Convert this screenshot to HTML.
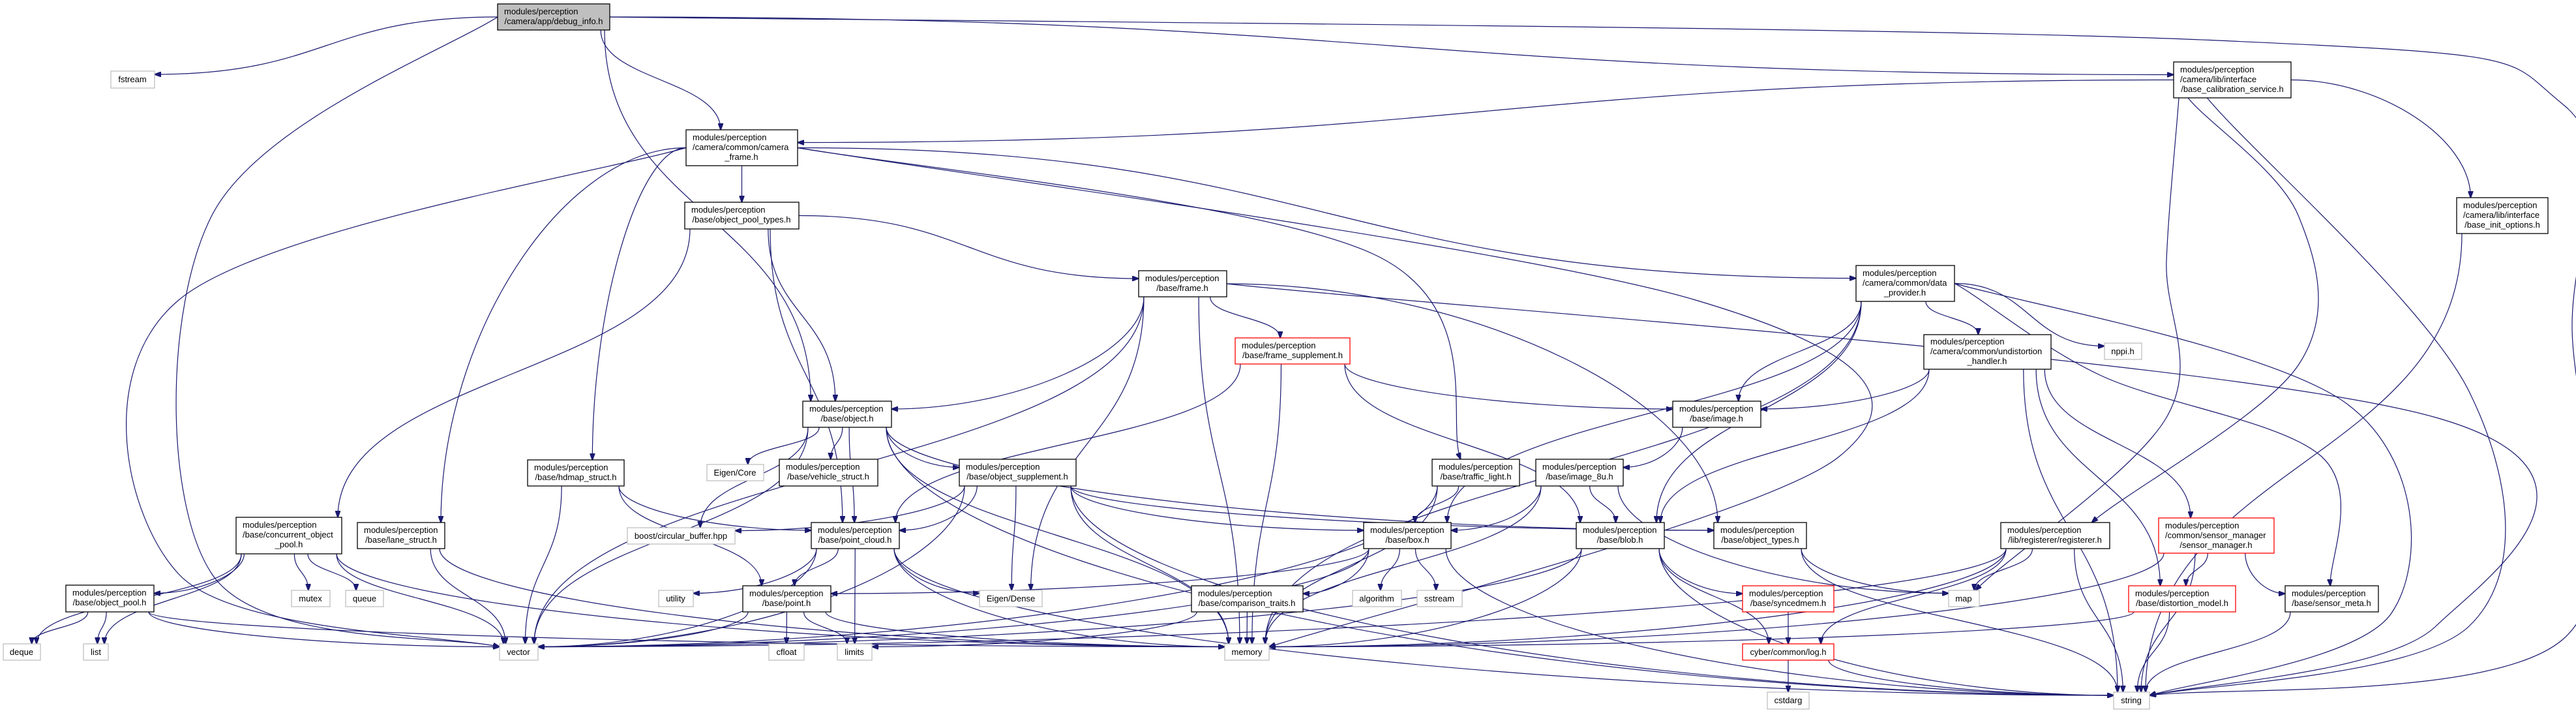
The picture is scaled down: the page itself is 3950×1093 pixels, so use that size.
<!DOCTYPE html>
<html><head><meta charset="utf-8"><style>
html,body{margin:0;padding:0;background:#fff;overflow:hidden;width:3950px;height:1093px;}
svg{display:block;}
text{font-family:"Liberation Sans",Helvetica,Arial,sans-serif;font-size:13px;fill:#000;}
</style></head><body>
<svg id="g" width="3950" height="1093" viewBox="0 0 3950 1093" xmlns="http://www.w3.org/2000/svg">
<defs><marker id="ah" markerWidth="11" markerHeight="8" refX="10" refY="4" orient="auto" markerUnits="userSpaceOnUse"><path d="M0,0 L11,4 L0,8 z" fill="#191970" stroke="#191970"/></marker></defs>
<g id="edges" fill="none" stroke="#191970" stroke-width="1.2"></g>
<g id="nodes" stroke-width="1.3">
<rect x="763" y="6" width="172" height="40" fill="#bfbfbf" stroke="#000"/><text x="773" y="22">modules/perception</text><text x="849" y="37" text-anchor="middle">/camera/app/debug_info.h</text>
<rect x="170" y="109" width="67" height="26" fill="#fff" stroke="#bfbfbf"/><text x="203" y="126" text-anchor="middle">fstream</text>
<rect x="3333" y="95" width="180" height="55" fill="#fff" stroke="#000"/><text x="3343" y="111">modules/perception</text><text x="3343" y="126">/camera/lib/interface</text><text x="3423" y="141" text-anchor="middle">/base_calibration_service.h</text>
<rect x="3767" y="303" width="140" height="55" fill="#fff" stroke="#000"/><text x="3777" y="319">modules/perception</text><text x="3777" y="334">/camera/lib/interface</text><text x="3837" y="349" text-anchor="middle">/base_init_options.h</text>
<rect x="1052" y="199" width="171" height="55" fill="#fff" stroke="#000"/><text x="1062" y="215">modules/perception</text><text x="1062" y="230">/camera/common/camera</text><text x="1137" y="245" text-anchor="middle">_frame.h</text>
<rect x="1050" y="310" width="175" height="41" fill="#fff" stroke="#000"/><text x="1060" y="326">modules/perception</text><text x="1137" y="341" text-anchor="middle">/base/object_pool_types.h</text>
<rect x="1746" y="415" width="135" height="40" fill="#fff" stroke="#000"/><text x="1756" y="431">modules/perception</text><text x="1813" y="446" text-anchor="middle">/base/frame.h</text>
<rect x="2846" y="407" width="151" height="55" fill="#fff" stroke="#000"/><text x="2856" y="423">modules/perception</text><text x="2856" y="438">/camera/common/data</text><text x="2921" y="453" text-anchor="middle">_provider.h</text>
<rect x="1894" y="518" width="176" height="40" fill="#fff" stroke="#f00"/><text x="1904" y="534">modules/perception</text><text x="1982" y="549" text-anchor="middle">/base/frame_supplement.h</text>
<rect x="2950" y="513" width="195" height="53" fill="#fff" stroke="#000"/><text x="2960" y="528">modules/perception</text><text x="2960" y="543">/camera/common/undistortion</text><text x="3047" y="558" text-anchor="middle">_handler.h</text>
<rect x="3227" y="526" width="57" height="25" fill="#fff" stroke="#bfbfbf"/><text x="3255" y="543" text-anchor="middle">nppi.h</text>
<rect x="1231" y="615" width="136" height="40" fill="#fff" stroke="#000"/><text x="1241" y="631">modules/perception</text><text x="1299" y="646" text-anchor="middle">/base/object.h</text>
<rect x="2565" y="615" width="135" height="40" fill="#fff" stroke="#000"/><text x="2575" y="631">modules/perception</text><text x="2632" y="646" text-anchor="middle">/base/image.h</text>
<rect x="809" y="705" width="148" height="40" fill="#fff" stroke="#000"/><text x="819" y="721">modules/perception</text><text x="883" y="736" text-anchor="middle">/base/hdmap_struct.h</text>
<rect x="1084" y="712" width="87" height="25" fill="#fff" stroke="#bfbfbf"/><text x="1127" y="729" text-anchor="middle">Eigen/Core</text>
<rect x="1195" y="704" width="151" height="41" fill="#fff" stroke="#000"/><text x="1205" y="720">modules/perception</text><text x="1270" y="735" text-anchor="middle">/base/vehicle_struct.h</text>
<rect x="1471" y="704" width="179" height="41" fill="#fff" stroke="#000"/><text x="1481" y="720">modules/perception</text><text x="1560" y="735" text-anchor="middle">/base/object_supplement.h</text>
<rect x="2196" y="704" width="134" height="41" fill="#fff" stroke="#000"/><text x="2206" y="720">modules/perception</text><text x="2263" y="735" text-anchor="middle">/base/traffic_light.h</text>
<rect x="2355" y="704" width="134" height="41" fill="#fff" stroke="#000"/><text x="2365" y="720">modules/perception</text><text x="2422" y="735" text-anchor="middle">/base/image_8u.h</text>
<rect x="362" y="793" width="162" height="56" fill="#fff" stroke="#000"/><text x="372" y="809">modules/perception</text><text x="372" y="824">/base/concurrent_object</text><text x="443" y="839" text-anchor="middle">_pool.h</text>
<rect x="548" y="801" width="134" height="40" fill="#fff" stroke="#000"/><text x="558" y="817">modules/perception</text><text x="615" y="832" text-anchor="middle">/base/lane_struct.h</text>
<rect x="1244" y="801" width="135" height="40" fill="#fff" stroke="#000"/><text x="1254" y="817">modules/perception</text><text x="1311" y="832" text-anchor="middle">/base/point_cloud.h</text>
<rect x="962" y="809" width="165" height="25" fill="#fff" stroke="#bfbfbf"/><text x="1044" y="826" text-anchor="middle">boost/circular_buffer.hpp</text>
<rect x="2091" y="801" width="134" height="40" fill="#fff" stroke="#000"/><text x="2101" y="817">modules/perception</text><text x="2158" y="832" text-anchor="middle">/base/box.h</text>
<rect x="2417" y="801" width="135" height="40" fill="#fff" stroke="#000"/><text x="2427" y="817">modules/perception</text><text x="2484" y="832" text-anchor="middle">/base/blob.h</text>
<rect x="2628" y="801" width="142" height="40" fill="#fff" stroke="#000"/><text x="2638" y="817">modules/perception</text><text x="2699" y="832" text-anchor="middle">/base/object_types.h</text>
<rect x="3068" y="801" width="167" height="40" fill="#fff" stroke="#000"/><text x="3078" y="817">modules/perception</text><text x="3151" y="832" text-anchor="middle">/lib/registerer/registerer.h</text>
<rect x="3310" y="794" width="177" height="54" fill="#fff" stroke="#f00"/><text x="3320" y="810">modules/perception</text><text x="3320" y="825">/common/sensor_manager</text><text x="3398" y="840" text-anchor="middle">/sensor_manager.h</text>
<rect x="101" y="897" width="135" height="41" fill="#fff" stroke="#000"/><text x="111" y="913">modules/perception</text><text x="168" y="928" text-anchor="middle">/base/object_pool.h</text>
<rect x="447" y="905" width="59" height="25" fill="#fff" stroke="#bfbfbf"/><text x="476" y="922" text-anchor="middle">mutex</text>
<rect x="530" y="905" width="58" height="25" fill="#fff" stroke="#bfbfbf"/><text x="559" y="922" text-anchor="middle">queue</text>
<rect x="1010" y="905" width="53" height="25" fill="#fff" stroke="#bfbfbf"/><text x="1036" y="922" text-anchor="middle">utility</text>
<rect x="1139" y="898" width="135" height="40" fill="#fff" stroke="#000"/><text x="1149" y="914">modules/perception</text><text x="1206" y="929" text-anchor="middle">/base/point.h</text>
<rect x="1502" y="905" width="96" height="25" fill="#fff" stroke="#bfbfbf"/><text x="1550" y="922" text-anchor="middle">Eigen/Dense</text>
<rect x="1827" y="898" width="171" height="40" fill="#fff" stroke="#000"/><text x="1837" y="914">modules/perception</text><text x="1912" y="929" text-anchor="middle">/base/comparison_traits.h</text>
<rect x="2074" y="905" width="75" height="25" fill="#fff" stroke="#bfbfbf"/><text x="2111" y="922" text-anchor="middle">algorithm</text>
<rect x="2173" y="905" width="69" height="25" fill="#fff" stroke="#bfbfbf"/><text x="2207" y="922" text-anchor="middle">sstream</text>
<rect x="2672" y="898" width="140" height="40" fill="#fff" stroke="#f00"/><text x="2682" y="914">modules/perception</text><text x="2742" y="929" text-anchor="middle">/base/syncedmem.h</text>
<rect x="2988" y="905" width="47" height="25" fill="#fff" stroke="#bfbfbf"/><text x="3011" y="922" text-anchor="middle">map</text>
<rect x="3264" y="898" width="164" height="40" fill="#fff" stroke="#f00"/><text x="3274" y="914">modules/perception</text><text x="3346" y="929" text-anchor="middle">/base/distortion_model.h</text>
<rect x="3504" y="898" width="143" height="40" fill="#fff" stroke="#000"/><text x="3514" y="914">modules/perception</text><text x="3575" y="929" text-anchor="middle">/base/sensor_meta.h</text>
<rect x="5" y="987" width="57" height="25" fill="#fff" stroke="#bfbfbf"/><text x="33" y="1004" text-anchor="middle">deque</text>
<rect x="128" y="987" width="38" height="25" fill="#fff" stroke="#bfbfbf"/><text x="147" y="1004" text-anchor="middle">list</text>
<rect x="766" y="987" width="59" height="25" fill="#fff" stroke="#bfbfbf"/><text x="795" y="1004" text-anchor="middle">vector</text>
<rect x="1179" y="987" width="54" height="25" fill="#fff" stroke="#bfbfbf"/><text x="1206" y="1004" text-anchor="middle">cfloat</text>
<rect x="1284" y="987" width="53" height="25" fill="#fff" stroke="#bfbfbf"/><text x="1310" y="1004" text-anchor="middle">limits</text>
<rect x="1878" y="987" width="68" height="25" fill="#fff" stroke="#bfbfbf"/><text x="1912" y="1004" text-anchor="middle">memory</text>
<rect x="2672" y="987" width="140" height="25" fill="#fff" stroke="#f00"/><text x="2742" y="1004" text-anchor="middle">cyber/common/log.h</text>
<rect x="2710" y="1061" width="64" height="26" fill="#fff" stroke="#bfbfbf"/><text x="2742" y="1078" text-anchor="middle">cstdarg</text>
<rect x="3241" y="1061" width="55" height="26" fill="#fff" stroke="#bfbfbf"/><text x="3268" y="1078" text-anchor="middle">string</text>
</g>
</svg>
<script>
var N={R:[763,6,935,46],fstream:[170,109,237,135],BCS:[3333,95,3513,150],BIO:[3767,303,3907,358],CF:[1052,199,1223,254],OPT:[1050,310,1225,351],F:[1746,415,1881,455],DP:[2846,407,2997,462],FS:[1894,518,2070,558],UH:[2950,513,3145,566],nppi:[3227,526,3284,551],obj:[1231,615,1367,655],img:[2565,615,2700,655],hd:[809,705,957,745],EC:[1084,712,1171,737],VS:[1195,704,1346,745],OS:[1471,704,1650,745],TL:[2196,704,2330,745],I8:[2355,704,2489,745],CP:[362,793,524,849],lane:[548,801,682,841],PC:[1244,801,1379,841],CB:[962,809,1127,834],box:[2091,801,2225,841],blob:[2417,801,2552,841],OT:[2628,801,2770,841],reg:[3068,801,3235,841],SM:[3310,794,3487,848],OP:[101,897,236,938],mutex:[447,905,506,930],queue:[530,905,588,930],utility:[1010,905,1063,930],point:[1139,898,1274,938],ED:[1502,905,1598,930],CT:[1827,898,1998,938],alg:[2074,905,2149,930],sst:[2173,905,2242,930],sync:[2672,898,2812,938],map:[2988,905,3035,930],DM:[3264,898,3428,938],SMeta:[3504,898,3647,938],deque:[5,987,62,1012],list:[128,987,166,1012],vector:[766,987,825,1012],cfloat:[1179,987,1233,1012],limits:[1284,987,1337,1012],memory:[1878,987,1946,1012],log:[2672,987,2812,1012],cstdarg:[2710,1061,2774,1087],string:[3241,1061,3296,1087]};
var E=[
['R','fstream',{s:'l'}],['R','vector',{s:'l',w:[[325,330],[325,880]]}],['R','string',{s:'r',w:[[3400,62],[3930,160],[3944,500],[3930,980]]}],['R','BCS',{s:'r',e:'l'}],['R','CF'],['R','obj'],
['CF','OPT'],['CF','vector',{s:'l',w:[[274,460],[274,880]]}],['CF','lane',{s:'l'}],['CF','hd',{s:'l'}],['CF','DP',{s:'r'}],['CF','TL',{s:'r',w:[[2107,390]]}],['CF','memory',{s:'r',w:[[2600,460],[2820,700]]}],
['BCS','CF',{s:'l',e:'r'}],['BCS','map',{w:[[3322,400],[3322,640]]}],['BCS','reg',{w:[[3524,330],[3524,560]]}],['BCS','string',{w:[[3786,600],[3786,960]]}],['BCS','BIO',{s:'r'}],['BIO','string'],
['OPT','F',{s:'r',e:'l'}],['OPT','CP'],['OPT','obj'],['OPT','PC'],
['F','FS'],['F','obj'],['F','vector'],['F','ED'],['F','memory'],['F','OT',{s:'r'}],['F','string',{s:'r',w:[[3735,640],[3735,960]]}],
['FS','img'],['FS','PC'],['FS','memory'],['FS','blob'],
['DP','img'],['DP','UH'],['DP','nppi',{s:'r'}],['DP','string',{s:'r',w:[[3600,620],[3667,940]]}],['DP','box'],['DP','blob'],['DP','memory'],['DP','SMeta',{s:'r',w:[[3220,575],[3560,700]]}],
['UH','img'],['UH','blob'],['UH','DM'],['UH','SM'],['UH','string'],
['obj','EC'],['obj','VS'],['obj','OS'],['obj','PC'],['obj','CB'],['obj','vector'],['obj','memory'],['obj','string'],['obj','OT'],
['OS','CB'],['OS','PC'],['OS','box'],['OS','ED'],['OS','memory'],['OS','string'],['OS','OT'],['OS','vector'],
['hd','PC'],['hd','vector'],['hd','point'],['lane','vector'],['lane','memory'],
['CP','OP'],['CP','deque'],['CP','list'],['CP','mutex'],['CP','queue'],['CP','vector'],['CP','memory'],
['OP','deque'],['OP','list'],['OP','vector'],['OP','memory'],
['PC','point'],['PC','limits'],['PC','ED'],['PC','memory'],['PC','utility'],['PC','vector'],['PC','string'],
['point','cfloat'],['point','limits'],['point','memory'],['point','vector'],
['TL','box'],['TL','memory'],['TL','vector'],
['I8','box'],['I8','blob'],['I8','map'],['I8','memory'],['img','I8'],
['box','alg'],['box','sst'],['box','point'],['box','CT'],['box','string'],['box','vector'],
['CT','limits'],['CT','memory'],
['blob','sync'],['blob','log'],['blob','memory'],['blob','string'],['blob','vector'],
['OT','map'],['OT','string'],['sync','log'],['log','cstdarg'],['log','string'],
['reg','map'],['reg','log'],['reg','vector'],['reg','string'],['reg','memory'],
['SM','DM'],['SM','SMeta'],['SM','string'],['SM','memory'],['DM','string'],['DM','memory'],['SMeta','string']
];
function cl(v,a,b){return Math.max(a,Math.min(b,v));}
var out='';
E.forEach(function(e){
 var A=N[e[0]],B=N[e[1]],o=e[2]||{};
 var acx=(A[0]+A[2])/2,acy=(A[1]+A[3])/2,bcx=(B[0]+B[2])/2,bcy=(B[1]+B[3])/2;
 var s,ds,t,dt;
 var down=B[1]>=A[3]+5, up=B[3]<=A[1]-5;
 var mode=o.s||(down?'b':(up?'t':(bcx>acx?'r':'l')));
 if(mode=='b'){s=[cl(acx+(bcx-acx)*0.25,A[0]+8,A[2]-8),A[3]];ds=[0,1];}
 else if(mode=='t'){s=[cl(acx+(bcx-acx)*0.25,A[0]+8,A[2]-8),A[1]];ds=[0,-1];}
 else if(mode=='r'){s=[A[2],acy];ds=[1,0];}
 else {s=[A[0],acy];ds=[-1,0];}
 var ref=o.w?o.w[o.w.length-1]:s;
 var dx=bcx-ref[0],dy=B[1]-ref[1];
 var em=o.e;
 if(!em){ if(B[1]>ref[1]+5 && Math.abs(dx)<2.5*dy) em='t'; else if(B[3]<ref[1]-5 && Math.abs(dx)<2.5*(ref[1]-B[3])) em='b'; else em=(dx>0?'l':'r'); }
 if(em=='t'){t=[cl(bcx+(ref[0]-bcx)*0.15,B[0]+6,B[2]-6),B[1]];dt=[0,1];}
 else if(em=='b'){t=[cl(bcx+(ref[0]-bcx)*0.15,B[0]+6,B[2]-6),B[3]];dt=[0,-1];}
 else if(em=='l'){t=[B[0],bcy+cl((ref[1]-bcy)*0.3,-8,8)];dt=[1,0];}
 else {t=[B[2],bcy+cl((ref[1]-bcy)*0.3,-8,8)];dt=[-1,0];}
 var d;
 if(!o.w){
  var DX=Math.abs(t[0]-s[0]),DY=Math.abs(t[1]-s[1]);
  var Ls=ds[0]?Math.max(DX*0.5,15):Math.max(DY*0.5,15);
  var Lt=dt[0]?Math.max(DX*0.5,15):Math.max(DY*0.5,15);
  d='M'+s[0]+','+s[1]+' C'+(s[0]+ds[0]*Ls)+','+(s[1]+ds[1]*Ls)+' '+(t[0]-dt[0]*Lt)+','+(t[1]-dt[1]*Lt)+' '+t[0]+','+t[1];
 } else {
  var p=[s].concat(o.w).concat([t]);
  var p0=[s[0]-ds[0]*40,s[1]-ds[1]*40],pn=[t[0]+dt[0]*40,t[1]+dt[1]*40];
  var P=[p0].concat(p).concat([pn]);
  d='M'+s[0]+','+s[1];
  for(var i=1;i<P.length-2;i++){
   var a=P[i-1],b=P[i],c=P[i+1],f=P[i+2];
   d+=' C'+(b[0]+(c[0]-a[0])/6)+','+(b[1]+(c[1]-a[1])/6)+' '+(c[0]-(f[0]-b[0])/6)+','+(c[1]-(f[1]-b[1])/6)+' '+c[0]+','+c[1];
  }
 }
 out+='<path d="'+d+'" marker-end="url(#ah)"/>';
});
document.getElementById('edges').innerHTML=out;
</script>
</body></html>
